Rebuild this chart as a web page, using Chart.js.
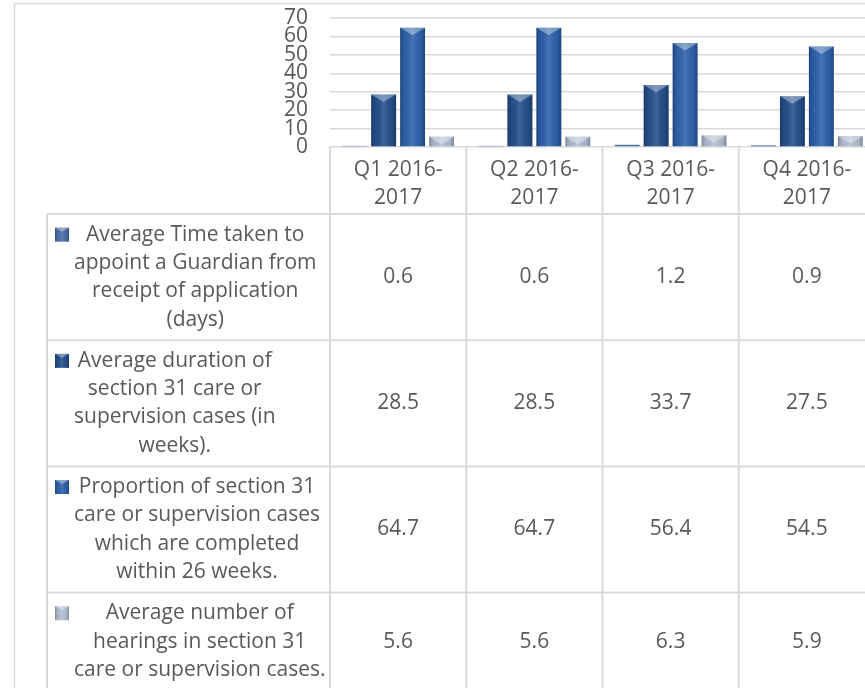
<!DOCTYPE html>
<html>
<head>
<meta charset="utf-8">
<script src="https://cdn.jsdelivr.net/npm/chart.js@4.4.0/dist/chart.umd.min.js"></script>
<style>
  html, body { margin: 0; padding: 0; background: #fff; overflow: hidden; }
  #wrap { width: 865px; height: 688px; overflow: hidden; position: relative; }
</style>
</head>
<body>
<div id="wrap"><canvas id="chart" width="885" height="700"></canvas></div>
<script>
// data
const quarters = [["Q1 2016-", "2017"], ["Q2 2016-", "2017"], ["Q3 2016-", "2017"], ["Q4 2016-", "2017"]];
const avgTimeToAppoint = [0.6, 0.6, 1.2, 0.9];
const avgDuration = [28.5, 28.5, 33.7, 27.5];
const completedIn26Weeks = [64.7, 64.7, 56.4, 54.5];
const avgHearings = [5.6, 5.6, 6.3, 5.9];
const yTicks = [0, 10, 20, 30, 40, 50, 60, 70];

const seriesLines = [
  ["Average Time taken to", "appoint a Guardian from", "receipt of application", "(days)"],
  ["Average duration of", "section 31 care or", "supervision cases (in", "weeks)."],
  ["Proportion of section 31", "care or supervision cases", "which are completed", "within 26 weeks."],
  ["Average number of", "hearings in section 31", "care or supervision cases."]
];
const seriesValues = [avgTimeToAppoint, avgDuration, completedIn26Weeks, avgHearings];
const seriesColors = ["#4b6fa9", "#26508f", "#2e63ad", "#b3bfd5"];

const textColor = "#595959";
const lineColor = "#d9d9d9";
const tableFont = '21px "Open Sans"';

function shadeBar(ctx, left, top, w, h) {
  const g = ctx.createLinearGradient(left, 0, left + w, 0);
  g.addColorStop(0, "rgba(0,0,0,0.28)");
  g.addColorStop(0.18, "rgba(0,0,0,0.05)");
  g.addColorStop(0.5, "rgba(255,255,255,0.12)");
  g.addColorStop(0.82, "rgba(0,0,0,0.05)");
  g.addColorStop(1, "rgba(0,0,0,0.28)");
  ctx.fillStyle = g;
  ctx.fillRect(left, top, w, h);
  // bevelled top
  const bh = Math.min(h, w * 0.3);
  if (bh > 1) {
    ctx.beginPath();
    ctx.moveTo(left, top);
    ctx.lineTo(left + w, top);
    ctx.lineTo(left + w * 0.5, top + bh);
    ctx.closePath();
    ctx.fillStyle = "rgba(255,255,255,0.35)";
    ctx.fill();
  }
}

const barShading = {
  id: "barShading",
  afterDatasetsDraw(chart) {
    const ctx = chart.ctx;
    ctx.save();
    chart.data.datasets.forEach((ds, di) => {
      chart.getDatasetMeta(di).data.forEach(bar => {
        const p = bar.getProps(["x", "y", "base", "width"], true);
        const h = p.base - p.y;
        if (h < 1.5) return;
        shadeBar(ctx, p.x - p.width / 2, p.y, p.width, h);
      });
    });
    ctx.restore();
  }
};

// data table under the plot, columns follow the x scale
const dataTable = {
  id: "dataTable",
  afterDraw(chart) {
    const ctx = chart.ctx;
    const x = chart.scales.x;
    const area = chart.chartArea;
    const n = quarters.length;
    const catW = (x.right - x.left) / n;
    const edges = [];
    for (let i = 0; i < n; i++) edges.push(x.getPixelForValue(i) - catW / 2);
    edges.push(x.right);

    const lineH = 28.3;
    const legendLeft = 47;
    const headTop = area.bottom;
    const headBottom = headTop + 67;
    const rowTops = [headBottom];
    seriesLines.forEach(lines => rowTops.push(rowTops[rowTops.length - 1] + lines.length * lineH + 13));
    const tableBottom = rowTops[rowTops.length - 1];

    ctx.save();
    // frame of the chart object
    ctx.strokeStyle = lineColor;
    ctx.lineWidth = 1.5;
    ctx.beginPath();
    ctx.moveTo(14, 3.5); ctx.lineTo(chart.width, 3.5);
    ctx.moveTo(14.5, 3); ctx.lineTo(14.5, chart.height);
    ctx.stroke();

    // grid of the table
    ctx.lineWidth = 2;
    ctx.beginPath();
    edges.forEach(e => { ctx.moveTo(e, headTop); ctx.lineTo(e, tableBottom); });
    ctx.moveTo(legendLeft, headBottom); ctx.lineTo(legendLeft, tableBottom);
    rowTops.forEach(t => { ctx.moveTo(legendLeft, t); ctx.lineTo(x.right, t); });
    ctx.stroke();

    ctx.font = tableFont;
    ctx.fillStyle = textColor;
    ctx.textAlign = "center";
    ctx.textBaseline = "middle";
    // header: category labels
    quarters.forEach((lab, i) => {
      const cx = x.getPixelForValue(i);
      lab.forEach((t, j) => ctx.fillText(t, cx, headTop + 23 + j * lineH));
    });

    // rows: legend key, wrapped name, values
    seriesLines.forEach((lines, r) => {
      const cy = (rowTops[r] + rowTops[r + 1]) / 2;
      const firstY = cy - (lines.length - 1) / 2 * lineH;
      ctx.font = tableFont;
      const maxW = Math.max(...lines.map(t => ctx.measureText(t).width));
      const tx = 74 + maxW / 2;
      ctx.fillStyle = textColor;
      lines.forEach((t, j) => ctx.fillText(t, tx, firstY + j * lineH));

      ctx.fillStyle = seriesColors[r];
      ctx.fillRect(55, firstY - 7, 14, 14);
      shadeBar(ctx, 55, firstY - 7, 14, 14);

      ctx.fillStyle = textColor;
      seriesValues[r].forEach((v, c) => ctx.fillText(v.toFixed(1), x.getPixelForValue(c), cy));
    });
    ctx.restore();
  }
};

const ctx = document.getElementById("chart").getContext("2d");
const chart = new Chart(ctx, {
  type: "bar",
  data: {
    labels: quarters,
    datasets: seriesLines.map((lines, i) => ({
      label: lines.join(" "),
      data: seriesValues[i],
      backgroundColor: seriesColors[i],
      borderWidth: 0,
      categoryPercentage: 0.85,
      barPercentage: 0.86
    }))
  },
  options: {
    responsive: false,
    animation: false,
    layout: { padding: { top: 18, right: 10, bottom: 553, left: 0 } },
    plugins: { legend: { display: false }, tooltip: { enabled: false } },
    scales: {
      x: { display: false },
      y: {
        min: yTicks[0],
        max: yTicks[yTicks.length - 1],
        afterFit(scale) { scale.width = 330; scale.paddingTop = 0; scale.paddingBottom = 0; },
        afterBuildTicks(scale) { scale.ticks = yTicks.map(v => ({ value: v })); },
        border: { display: false },
        grid: { color: lineColor, lineWidth: 1.5, drawTicks: false },
        ticks: { color: textColor, font: { family: "Open Sans", size: 21, lineHeight: 1 }, padding: 22, autoSkip: false }
      }
    }
  },
  plugins: [barShading, dataTable]
});
</script>
</body>
</html>
